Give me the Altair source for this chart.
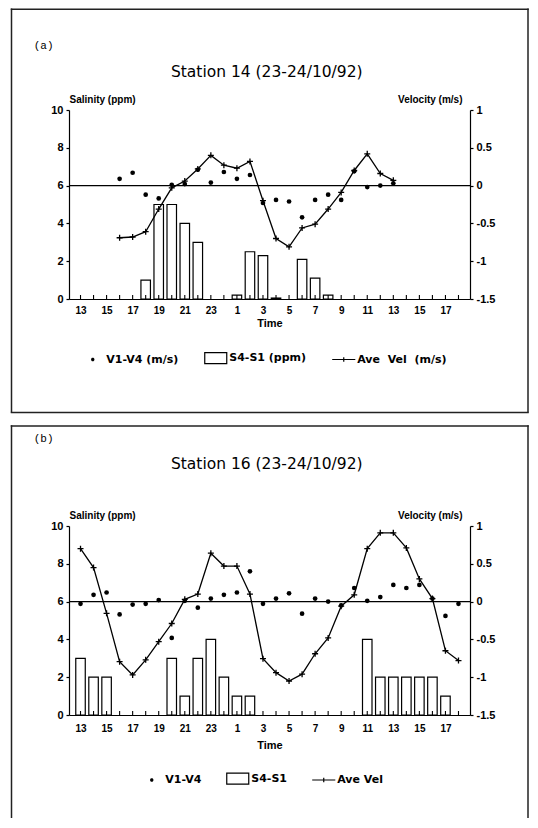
import altair as alt
import pandas as pd

# ---------------- data (time slots: index 0 = 13h, hourly, 30 slots) ----------------
START_HOUR = 13
N_SLOTS = 30

# Panel (a) Station 14
a_dots_idx = [3, 4, 5, 6, 7, 8, 9, 10, 11, 12, 13, 14, 15, 16, 17, 18, 19, 20, 21, 22, 23, 24]
a_dots_val = [0.09, 0.17, -0.12, -0.17, 0.01, 0.02, 0.21, 0.04, 0.18, 0.09, 0.14, -0.23,
              -0.19, -0.21, -0.42, -0.19, -0.12, -0.19, 0.19, -0.02, 0.00, 0.03]
a_line_idx = [3, 4, 5, 6, 7, 8, 9, 10, 11, 12, 13, 14, 15, 16, 17, 18, 19, 20, 21, 22, 23, 24]
a_line_val = [-0.69, -0.68, -0.61, -0.31, -0.03, 0.06, 0.22, 0.40, 0.27, 0.23, 0.32, -0.20,
              -0.70, -0.81, -0.56, -0.51, -0.31, -0.09, 0.20, 0.42, 0.16, 0.07]
a_bar_idx = [5, 6, 7, 8, 9, 12, 13, 14, 15, 17, 18, 19]
a_bar_val = [1.0, 5.0, 5.0, 4.0, 3.0, 0.2, 2.5, 2.3, 0.05, 2.1, 1.1, 0.2]
a_names = ["V1-V4 (m/s)", "S4-S1 (ppm)", "Ave\u00a0 Vel\u00a0 (m/s)"]

# Panel (b) Station 16
b_dots_idx = list(range(30))
b_dots_val = [-0.03, 0.09, 0.12, -0.17, -0.04, -0.03, 0.02, -0.48, 0.01, -0.08, 0.04, 0.09,
              0.12, 0.40, -0.03, 0.04, 0.11, -0.16, 0.04, 0.00, -0.05, 0.18, 0.01, 0.06,
              0.22, 0.18, 0.22, 0.04, -0.19, -0.03]
b_line_idx = list(range(30))
b_line_val = [0.70, 0.45, -0.155, -0.795, -0.97, -0.77, -0.53, -0.29, 0.03, 0.10, 0.64, 0.47,
              0.47, 0.10, -0.755, -0.94, -1.05, -0.96, -0.69, -0.48, -0.06, 0.09, 0.70, 0.91,
              0.91, 0.71, 0.30, 0.04, -0.65, -0.78]
b_bar_idx = [0, 1, 2, 7, 8, 9, 10, 11, 12, 13, 22, 23, 24, 25, 26, 27, 28]
b_bar_val = [3, 2, 2, 3, 1, 3, 4, 2, 1, 1, 4, 2, 2, 2, 2, 2, 1]
b_names = ["V1-V4", "S4-S1", "Ave Vel"]

sal_ticks = [0, 2, 4, 6, 8, 10]
vel_ticks = [-1.5, -1, -0.5, 0, 0.5, 1]

# ---------------- styling ----------------
AX_FONT = "Liberation Sans"
LEG_FONT = "DejaVu Sans"
W, H = 401, 189
FRAME_L, FRAME_R = -57.5, 459
LEG_PATHS = [
    "M-0.11,-0.11L0.11,0.11M-0.11,0.11L0.11,-0.11M-0.15,0H0.15M0,-0.15V0.15",
    "M-1,-0.5H1V0.5H-1Z",
    "M-1.05,0H1.05M0,-0.2V0.2",
]


def make_panel(tag, title, bar_idx, bar_val, dot_idx, dot_val, line_idx, line_val, names,
               leg_x, leg_y, col_pad, lab_off, lab_pad, time_y, title_y, tag_y,
               frame_top, frame_bottom, draw_bottom):
    one = pd.DataFrame({"k": [0.0]})
    bars = pd.DataFrame({"idx": bar_idx, "sal": bar_val})
    dots = pd.DataFrame({"idx": dot_idx, "vel": dot_val})
    line = pd.DataFrame({"idx": line_idx, "vel": line_val})
    ticks = pd.DataFrame({"idx": list(range(N_SLOTS)), "sal": [0.0] * N_SLOTS})
    leg = pd.DataFrame({"idx": [-5.0] * 3, "vel": [0.0] * 3, "series": names})

    xscale = alt.Scale(domain=[-0.5, 29.5], nice=False, zero=False)
    xaxis = alt.Axis(
        values=list(range(N_SLOTS)),
        labelExpr=f"datum.value % 2 == 0 ? '' + ((datum.value + {START_HOUR}) % 24) : ''",
        ticks=False, tickSize=0, labelPadding=lab_pad, labelFontSize=10,
        labelOverlap=False, labelFlush=False, domainWidth=1.2,
        title="Time", titleFontSize=11, titleY=time_y, titleBaseline="middle",
    )
    X = alt.X("idx:Q", scale=xscale, axis=xaxis)
    sal_scale = alt.Scale(domain=[0, 10], nice=False)
    vel_scale = alt.Scale(domain=[-1.5, 1], nice=False, zero=False)

    left_axis = alt.Axis(
        orient="left", values=sal_ticks, title="Salinity (ppm)", titleAngle=0,
        titleAlign="left", titleBaseline="middle", titleX=0, titleY=-10.5,
        titleFontSize=10, labelFontSize=11, tickSize=3, labelPadding=3,
        domainWidth=1.2, tickWidth=1.2,
    )
    right_axis = alt.Axis(
        orient="right", values=vel_ticks, labelExpr="'' + datum.value",
        title="Velocity (m/s)", titleAngle=0, titleAlign="right",
        titleBaseline="middle", titleX=-8, titleY=-10.5, titleFontSize=10,
        labelFontSize=11, tickSize=3, labelPadding=3, domainWidth=1.2, tickWidth=1.2,
    )

    frame_col = "#222222"

    def bar_seg(x1, x2, y1, y2):
        # thin filled strip used as a frame edge
        return alt.Chart(one).mark_rect(color=frame_col, strokeWidth=0).encode(
            x=alt.value(x1), x2=alt.value(x2), y=alt.value(y1), y2=alt.value(y2))

    layers = [
        bar_seg(FRAME_L - 0.75, FRAME_R + 0.75, frame_top - 0.75, frame_top + 0.75),
        bar_seg(FRAME_L - 0.75, FRAME_L + 0.75, frame_top - 0.75, frame_bottom),
        bar_seg(FRAME_R - 0.75, FRAME_R + 0.75, frame_top - 0.75, frame_bottom),
    ]
    if draw_bottom:
        layers.append(bar_seg(FRAME_L - 0.75, FRAME_R + 0.75, frame_bottom - 0.75,
                              frame_bottom + 0.75))
    layers += [
        alt.Chart(one).mark_text(text=tag, font="Liberation Mono", fontSize=11,
                                 align="left", baseline="middle", color="black").encode(
            x=alt.value(-35.25), y=alt.value(tag_y)),
        alt.Chart(one).mark_text(text=title, font=LEG_FONT, fontSize=15.5,
                                 align="center", baseline="middle", color="black").encode(
            x=alt.value(197.75), y=alt.value(title_y)),
        alt.Chart(bars).mark_bar(orient="vertical", size=9.5, fill="white",
                                 stroke="black", strokeWidth=1.2).encode(
            x=X, y=alt.Y("sal:Q", scale=sal_scale, axis=left_axis)),
        alt.Chart(one).mark_rule(color="black", strokeWidth=1.2).encode(
            y=alt.Y("k:Q", scale=vel_scale, axis=None)),
        alt.Chart(line).mark_line(color="black", strokeWidth=1.3).encode(
            x=X, y=alt.Y("vel:Q", scale=vel_scale, axis=None)),
        alt.Chart(line).mark_point(shape="M-1,0H1M0,-1V1", size=36, color="black",
                                   strokeWidth=1.3, opacity=1).encode(
            x=X, y=alt.Y("vel:Q", scale=vel_scale, axis=None)),
        alt.Chart(dots).mark_point(shape="circle", filled=True, size=22, color="black",
                                   opacity=1).encode(
            x=X, y=alt.Y("vel:Q", scale=vel_scale, axis=right_axis)),
        alt.Chart(ticks).mark_point(shape="M0,-1V0.25", size=64, color="black",
                                    strokeWidth=1.1, opacity=1).encode(
            x=X, y=alt.Y("sal:Q", scale=sal_scale, axis=None)),
        alt.Chart(leg).mark_point(clip=True, size=484, color="black", strokeWidth=1.2,
                                  opacity=1).encode(
            x=X, y=alt.Y("vel:Q", scale=vel_scale, axis=None),
            shape=alt.Shape("series:N", scale=alt.Scale(domain=names, range=LEG_PATHS),
                            legend=alt.Legend(
                                title=None, orient="none", legendX=leg_x, legendY=leg_y,
                                direction="horizontal", columnPadding=col_pad,
                                labelFont=LEG_FONT, labelFontWeight="bold",
                                labelFontSize=11, labelColor="black", labelOffset=lab_off,
                                symbolSize=484, symbolStrokeWidth=1.2,
                                symbolStrokeColor="black", padding=0, labelLimit=250))),
    ]
    return alt.layer(*layers).resolve_scale(y="independent").properties(width=W, height=H)


panel_a = make_panel("(a)", "Station 14 (23-24/10/92)", a_bar_idx, a_bar_val,
                     a_dots_idx, a_dots_val, a_line_idx, a_line_val, a_names,
                     leg_x=11.75, leg_y=236, col_pad=23, lab_off=1.5, lab_pad=6, time_y=24,
                     title_y=-38.5, tag_y=-64.5, frame_top=-100.75, frame_bottom=302.5,
                     draw_bottom=True)
panel_b = make_panel("(b)", "Station 16 (23-24/10/92)", b_bar_idx, b_bar_val,
                     b_dots_idx, b_dots_val, b_line_idx, b_line_val, b_names,
                     leg_x=70.75, leg_y=240.5, col_pad=22, lab_off=1.5, lab_pad=8, time_y=30,
                     title_y=-62.5, tag_y=-87.5, frame_top=-100, frame_bottom=292,
                     draw_bottom=False)

chart = (
    alt.vconcat(panel_a, panel_b, spacing=11)
    .resolve_scale(shape="independent", x="independent", y="independent")
    .properties(padding={"left": 2, "top": 0, "right": 0, "bottom": 0})
    .configure_view(strokeWidth=0)
    .configure_axis(labelFont=AX_FONT, labelFontWeight="bold", titleFont=AX_FONT,
                    titleFontWeight="bold", labelColor="black", titleColor="black",
                    domainColor="black", tickColor="black", grid=False)
)

chart.save("out.html", embed_options={"renderer": "svg", "actions": False})
